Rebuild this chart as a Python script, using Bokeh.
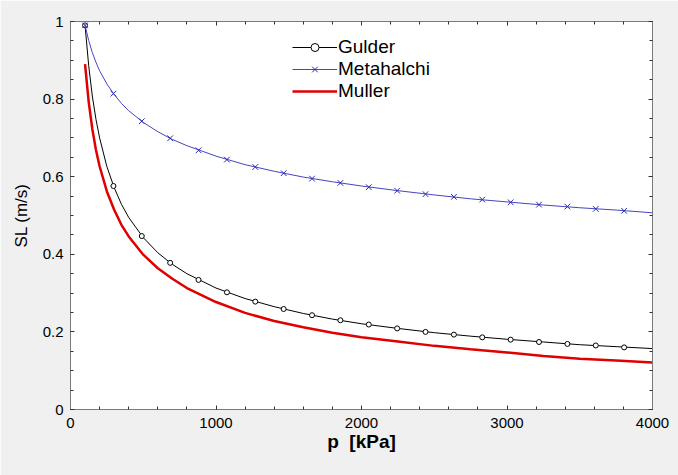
from bokeh.plotting import figure
from bokeh.models import Range1d, FixedTicker, LinearAxis, Legend, LegendItem
from bokeh.embed import file_html
from bokeh.resources import INLINE

# ---- data ----
p_line = [100, 125, 150, 175, 200, 250, 300, 350, 400, 500, 600, 700, 800,
          1000, 1200, 1400, 1600, 1800, 2000, 2250, 2500, 2750, 3000, 3250,
          3500, 3750, 4000]
gulder_line = [0.99, 0.886, 0.808, 0.748, 0.700, 0.626, 0.572, 0.529, 0.495,
               0.443, 0.404, 0.374, 0.350, 0.313, 0.286, 0.265, 0.2475, 0.233,
               0.221, 0.209, 0.198, 0.189, 0.181, 0.174, 0.167, 0.162, 0.157]
metahalchi_line = [0.99, 0.951, 0.920, 0.895, 0.873, 0.839, 0.812, 0.789,
                   0.770, 0.740, 0.716, 0.696, 0.680, 0.653, 0.631, 0.614,
                   0.599, 0.587, 0.576, 0.564, 0.553, 0.543, 0.535, 0.527,
                   0.520, 0.514, 0.507]
muller_line = [0.89, 0.793, 0.723, 0.669, 0.627, 0.562, 0.515, 0.476, 0.446,
               0.399, 0.364, 0.337, 0.313, 0.277, 0.249, 0.228, 0.212, 0.198,
               0.186, 0.175, 0.164, 0.155, 0.147, 0.138, 0.131, 0.126, 0.121]

p_markers = [100, 295, 490, 685, 880, 1075, 1270, 1465, 1660, 1855, 2050,
             2245, 2440, 2635, 2830, 3025, 3220, 3415, 3610, 3805]
gulder_markers = [0.99, 0.576, 0.447, 0.378, 0.334, 0.302, 0.278, 0.259, 0.243,
                  0.230, 0.219, 0.209, 0.200, 0.193, 0.186, 0.180, 0.174,
                  0.169, 0.165, 0.160]
metahalchi_markers = [0.99, 0.814, 0.743, 0.699, 0.668, 0.644, 0.625, 0.609,
                      0.595, 0.584, 0.573, 0.564, 0.555, 0.548, 0.541, 0.534,
                      0.528, 0.523, 0.517, 0.512]

x_ticks = [0, 1000, 2000, 3000, 4000]
x_minor = [v * 200 for v in range(21)]
y_ticks = [0, 0.2, 0.4, 0.6, 0.8, 1]
y_tick_labels = ["0", "0.2", "0.4", "0.6", "0.8", "1"]
y_minor = [v * 0.05 for v in range(21)]

FONT = "Liberation Sans"
FRAME = "#7a7a7a"

p = figure(width=678, height=475, output_backend="svg", toolbar_location=None,
           x_range=Range1d(0, 4000), y_range=Range1d(0, 1),
           min_border_left=70, min_border_right=26, min_border_top=21,
           min_border_bottom=66)
p.background_fill_color = "white"
p.border_fill_color = "#f0f0f0"
p.outline_line_color = FRAME
p.xgrid.visible = False
p.ygrid.visible = False

r_g = p.line(p_line, gulder_line, line_color="black", line_width=1)
r_gm = p.scatter(p_markers, gulder_markers, marker="circle", size=5,
                 fill_color="white", line_color="black", line_width=1)
r_m = p.line(p_line, metahalchi_line, line_color="#4444c4", line_width=1)
r_mm = p.scatter(p_markers, metahalchi_markers, marker="x", size=8,
                 line_color="#2a2ab0", line_width=1)
r_r = p.line(p_line, muller_line, line_color="#e00000", line_width=2.5)

def style(ax, ticks, minor, labels=True):
    ax.ticker = FixedTicker(ticks=ticks, minor_ticks=minor)
    ax.axis_line_color = FRAME
    ax.major_tick_in = 4
    ax.major_tick_out = 0
    ax.minor_tick_in = 3
    ax.minor_tick_out = 0
    ax.major_tick_line_color = "#333333"
    ax.minor_tick_line_color = "#333333"
    ax.major_label_text_font = FONT
    ax.major_label_text_font_size = "15px"
    ax.major_label_text_color = "black"
    if not labels:
        ax.major_label_text_font_size = "1px"
        ax.major_label_text_color = None
        ax.major_label_standoff = 0

xa = p.xaxis[0]
ya = p.yaxis[0]
style(xa, x_ticks, x_minor)
style(ya, y_ticks, y_minor)
ya.major_label_overrides = {t: s for t, s in zip(y_ticks, y_tick_labels)}
xa.major_label_standoff = 8
ya.major_label_standoff = 7
xa.axis_label = "p\u00a0 [kPa]"
xa.axis_label_text_font = FONT
xa.axis_label_text_font_size = "19px"
xa.axis_label_text_font_style = "bold"
xa.axis_label_text_color = "black"
xa.axis_label_standoff = 0
ya.axis_label = "SL (m/s)"
ya.axis_label_text_font = FONT
ya.axis_label_text_font_size = "17px"
ya.axis_label_text_font_style = "normal"
ya.axis_label_text_color = "black"
ya.axis_label_standoff = 9

top = LinearAxis()
style(top, x_ticks, x_minor, labels=False)
p.add_layout(top, "above")
right = LinearAxis()
style(right, y_ticks, y_minor, labels=False)
p.add_layout(right, "right")

legend = Legend(items=[
    LegendItem(label="Gulder", renderers=[r_g, r_gm]),
    LegendItem(label="Metahalchi", renderers=[r_m, r_mm]),
    LegendItem(label="Muller", renderers=[r_r]),
], location=(222, 307))
legend.border_line_color = None
legend.background_fill_alpha = 0
legend.padding = 0
legend.margin = 0
legend.spacing = 0
legend.label_height = 20
legend.glyph_height = 20
legend.glyph_width = 45
legend.label_standoff = 1
legend.label_text_font = FONT
legend.label_text_font_size = "19px"
legend.label_text_color = "black"
p.add_layout(legend)

open("out.html", "w").write(file_html(p, INLINE))
